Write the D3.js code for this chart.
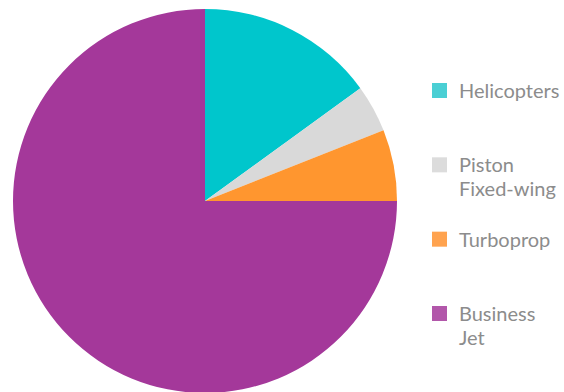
<!DOCTYPE html>
<html>
<head>
<meta charset="utf-8">
<script src="https://cdn.jsdelivr.net/npm/d3@7"></script>
<style>
  html, body { margin: 0; padding: 0; background: #fff; }
  svg { display: block; }
</style>
</head>
<body>
<script>
const categories = ["Helicopters", "Piston Fixed-wing", "Turboprop", "Business Jet"];
const legendLines = [["Helicopters"], ["Piston", "Fixed-wing"], ["Turboprop"], ["Business", "Jet"]];
const values = [15, 4, 6, 75];
const colors = ["#00C6CC", "#D9D9D9", "#FF962F", "#A4389A"];
const swatchColors = ["#4ACFD4", "#DCDCDC", "#FFA34F", "#B257AA"];

const W = 564, H = 392;
const svg = d3.select("body").append("svg").attr("width", W).attr("height", H);

const cx = 205, cy = 201, r = 192;
const pie = d3.pie().sort(null).value(d => d)(values);
const arc = d3.arc().innerRadius(0).outerRadius(r);

svg.append("g").attr("transform", `translate(${cx},${cy})`)
  .selectAll("path").data(pie).join("path")
  .attr("d", arc)
  .attr("fill", (d, i) => colors[i]);

const legendY = d3.scalePoint().domain(categories).range([91, 314]);
const lg = svg.append("g");
categories.forEach((c, i) => {
  const y = legendY(c);
  lg.append("rect").attr("x", 432).attr("y", y - 8).attr("width", 15).attr("height", 15)
    .attr("fill", swatchColors[i]);
  const t = lg.append("text").attr("x", 459).attr("y", y + 7)
    .attr("font-family", "Lato, 'Open Sans', sans-serif")
    .attr("font-size", 20).attr("fill", "#8C8C8C");
  legendLines[i].forEach((ln, j) => {
    t.append("tspan").attr("x", 459).attr("dy", j === 0 ? 0 : 24).text(ln);
  });
});
</script>
</body>
</html>
